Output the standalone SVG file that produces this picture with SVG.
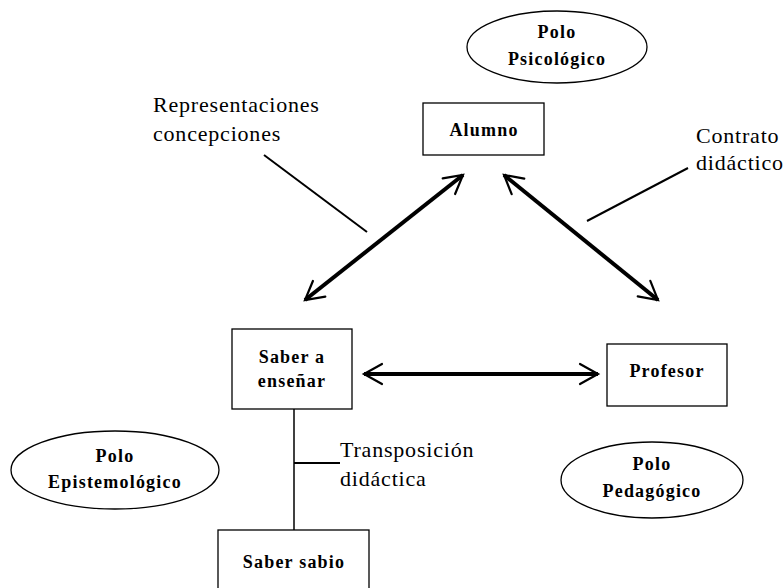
<svg xmlns="http://www.w3.org/2000/svg" width="784" height="588" viewBox="0 0 784 588">
<style>
.box{fill:#fff;stroke:#000;stroke-width:1.3}
.ell{fill:#fff;stroke:#000;stroke-width:1.3}
.b{font-family:"Liberation Serif","Times New Roman",serif;font-weight:bold;font-size:18px;letter-spacing:1.2px;fill:#000;text-anchor:middle}
.t{font-family:"Liberation Serif","Times New Roman",serif;font-size:22px;letter-spacing:0.8px;fill:#000}
.arr{stroke:#000;stroke-width:4;fill:none;marker-start:url(#ah);marker-end:url(#ah)}
.ln{stroke:#000;stroke-width:2;fill:none}
</style>
<defs>
<marker id="ah" viewBox="0 0 12 12" refX="10" refY="6" markerWidth="6" markerHeight="6" markerUnits="strokeWidth" orient="auto-start-reverse">
<path d="M1,1 L10,6 L1,11" fill="none" stroke="#000" stroke-width="1.1" stroke-linecap="round" stroke-linejoin="miter"/>
</marker>
</defs>
<rect width="784" height="588" fill="#fff"/>
<g id="connectors">
<line class="arr" x1="305" y1="300" x2="463" y2="175"/>
<line class="arr" x1="504" y1="175" x2="658" y2="300"/>
<line class="arr" x1="364" y1="374" x2="598" y2="374"/>
<line class="ln" x1="264" y1="155" x2="367" y2="232"/>
<line class="ln" x1="587" y1="221" x2="688" y2="168"/>
<line class="ln" x1="294" y1="409" x2="294" y2="530" style="stroke-width:1.5"/>
<line class="ln" x1="294" y1="463" x2="340" y2="463"/>
</g>
<g id="polo-psicologico">
<ellipse class="ell" cx="557" cy="47" rx="90" ry="36"/>
<text class="b" x="557" y="38">Polo</text>
<text class="b" x="557" y="65">Psicológico</text>
</g>
<g id="alumno">
<rect class="box" x="423" y="103" width="121" height="52"/>
<text class="b" x="484" y="136">Alumno</text>
</g>
<g id="saber-ensenar">
<rect class="box" x="232" y="329" width="120" height="80"/>
<text class="b" x="292" y="363">Saber a</text>
<text class="b" x="292" y="387">enseñar</text>
</g>
<g id="profesor">
<rect class="box" x="607" y="344" width="120" height="62"/>
<text class="b" x="667" y="377">Profesor</text>
</g>
<g id="saber-sabio">
<rect class="box" x="218" y="530" width="151" height="70"/>
<text class="b" x="294" y="568">Saber sabio</text>
</g>
<g id="polo-epistemologico">
<ellipse class="ell" cx="115" cy="470" rx="104" ry="39"/>
<text class="b" x="115" y="462">Polo</text>
<text class="b" x="115" y="488">Epistemológico</text>
</g>
<g id="polo-pedagogico">
<ellipse class="ell" cx="652" cy="480" rx="91" ry="38"/>
<text class="b" x="652" y="470">Polo</text>
<text class="b" x="652" y="497">Pedagógico</text>
</g>
<g id="labels">
<text class="t" x="153" y="112">Representaciones</text>
<text class="t" x="153" y="141">concepciones</text>
<text class="t" x="696" y="143">Contrato</text>
<text class="t" x="696" y="170">didáctico</text>
<text class="t" x="340" y="457">Transposición</text>
<text class="t" x="340" y="486">didáctica</text>
</g>
</svg>
